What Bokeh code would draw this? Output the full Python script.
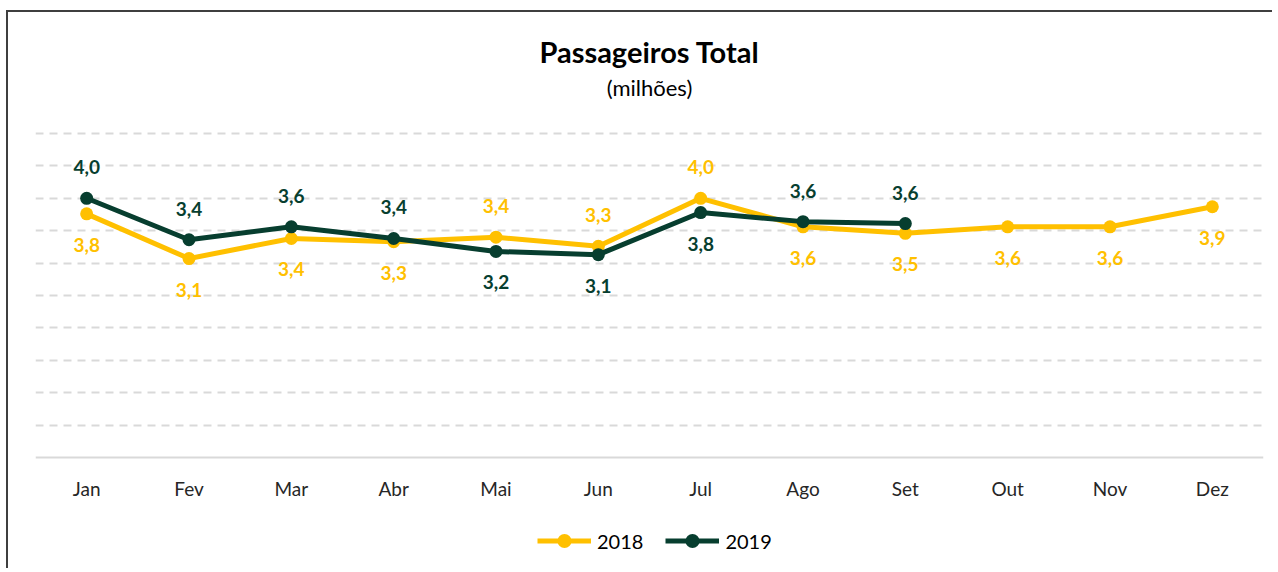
from bokeh.plotting import figure
from bokeh.models import ColumnDataSource, FixedTicker, Grid, Legend, LegendItem, Range1d
from bokeh.core.properties import value
from bokeh.embed import file_html
from bokeh.resources import INLINE

months = ["Jan", "Fev", "Mar", "Abr", "Mai", "Jun", "Jul", "Ago", "Set", "Out", "Nov", "Dez"]
pax_2018 = [3.76, 3.07, 3.38, 3.33, 3.40, 3.26, 4.00, 3.56, 3.46, 3.56, 3.56, 3.87]
pax_2019 = [4.00, 3.36, 3.56, 3.38, 3.18, 3.13, 3.78, 3.64, 3.61]
grid_ticks = [0.5, 1.0, 1.5, 2.0, 2.5, 3.0, 3.5, 4.0, 4.5, 5.0]

title_text = "Passageiros Total"
subtitle_text = "(milhões)"

C18 = "#FFC000"
C19 = "#073E2F"
FONT = "Lato"

PX_PER_UNIT = 64.8
ABOVE_ZERO = 445   # canvas pixels above the zero line
BELOW_ZERO = 113   # canvas pixels below the zero line
TOP = 12           # page y of canvas top
p = figure(width=1266, height=ABOVE_ZERO + BELOW_ZERO,
           x_range=Range1d(-0.5, len(months) - 0.5),
           y_range=Range1d(-BELOW_ZERO / PX_PER_UNIT, ABOVE_ZERO / PX_PER_UNIT),
           output_backend="svg", toolbar_location=None,
           y_axis_location=None,
           min_border_left=27, min_border_right=11,
           min_border_top=0, min_border_bottom=0)
p.styles = {"border-top": "2px solid #3f3f3f", "border-left": "2px solid #3f3f3f",
            "margin-left": "6px", "margin-top": "10px"}
p.outline_line_color = None
p.center = [r for r in p.center if not isinstance(r, Grid)]

p.add_layout(Grid(dimension=1, ticker=FixedTicker(ticks=grid_ticks),
                  grid_line_color="#d9d9d9", grid_line_width=2,
                  grid_line_dash="8 6"))

ax = p.xaxis[0]
ax.fixed_location = 0
ax.ticker = FixedTicker(ticks=list(range(len(months))))
ax.major_label_overrides = {i: m for i, m in enumerate(months)}
ax.axis_line_color = "#d9d9d9"
ax.axis_line_width = 2
ax.major_tick_line_color = None
ax.minor_tick_line_color = None
ax.major_tick_out = 0
ax.major_tick_in = 0
ax.major_label_standoff = 19
ax.major_label_text_font = FONT
ax.major_label_text_font_size = "19px"
ax.major_label_text_color = "#262626"

x18 = list(range(len(pax_2018)))
x19 = list(range(len(pax_2019)))

l18 = p.line(x18, pax_2018, line_color=C18, line_width=5)
c18 = p.scatter(x18, pax_2018, size=13, fill_color=C18, line_color=None)
l19 = p.line(x19, pax_2019, line_color=C19, line_width=5)
c19 = p.scatter(x19, pax_2019, size=13, fill_color=C19, line_color=None)

OFF = 31


def fmt(v):
    return f"{v:.1f}".replace(".", ",")


def offsets(vals, other):
    # label above the point when it is the higher of the two series, else below
    return [(-OFF if i < len(other) and v > other[i] else OFF) for i, v in enumerate(vals)]


src18 = ColumnDataSource(dict(x=x18, y=pax_2018, t=[fmt(v) for v in pax_2018],
                              off=offsets(pax_2018, pax_2019)))
src19 = ColumnDataSource(dict(x=x19, y=pax_2019, t=[fmt(v) for v in pax_2019],
                              off=offsets(pax_2019, pax_2018)))

for src, col in ((src18, C18), (src19, C19)):
    p.text(x="x", y="y", text="t", source=src, y_offset="off",
           text_align="center", text_baseline="middle",
           text_font=value(FONT), text_font_style="bold",
           text_font_size="19px", text_color=col)

mid = (len(months) - 1) / 2
zero_page_y = TOP + ABOVE_ZERO
p.text(x=[mid], y=[(zero_page_y - 51) / PX_PER_UNIT], text=[title_text],
       text_align="center", text_baseline="middle",
       text_font=value(FONT), text_font_style="bold",
       text_font_size="29px", text_color="#000000")
p.text(x=[mid], y=[(zero_page_y - 87) / PX_PER_UNIT], text=[subtitle_text],
       text_align="center", text_baseline="middle",
       text_font=value(FONT), text_font_size="22px", text_color="#000000")

legend = Legend(items=[LegendItem(label="2018", renderers=[l18, c18]),
                       LegendItem(label="2019", renderers=[l19, c19])],
                orientation="horizontal", location=(502, 12),
                glyph_width=54, glyph_height=35, label_standoff=6, spacing=22,
                padding=0, margin=0, border_line_color=None,
                background_fill_alpha=0,
                label_text_font=FONT, label_text_font_size="20px",
                label_text_color="#000000")
p.add_layout(legend)

open("out.html", "w").write(file_html(p, INLINE))
